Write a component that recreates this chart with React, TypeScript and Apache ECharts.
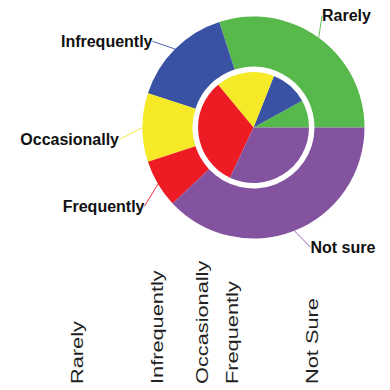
import React, { useEffect, useRef } from "react";
import * as echarts from "echarts";

const categories = ["Rarely", "Infrequently", "Occasionally", "Frequently", "Not sure"];
const outerValues = [30, 15, 10, 7, 38];
const innerValues = [8, 11, 17, 32, 32];
const axisLabels = ["Rarely", "Infrequently", "Occasionally", "Frequently", "Not Sure"];
const colors = ["#57B94B", "#3A52A3", "#F5E928", "#ED1C24", "#8453A0"];

// label placement (layout only)
const labelSpots = [
  { x: 322, y: 15.8, align: "left" },
  { x: 152.5, y: 41.3, align: "right" },
  { x: 119, y: 139.8, align: "right" },
  { x: 144.5, y: 206.3, align: "right" },
  { x: 310.5, y: 247.3, align: "left" },
];

export default function App() {
  const ref = useRef<HTMLDivElement>(null);
  useEffect(() => {
    if (!ref.current) return;
    const chart = echarts.init(ref.current, null, { renderer: "svg" });
    const total = outerValues.reduce((a, b) => a + b, 0);
    let acc = 0;
    const mids = outerValues.map((v) => {
      const m = ((acc + v / 2) / total) * 100;
      acc += v;
      return m;
    });
    const center = [253.5, 127.5];
    chart.setOption({
      animation: false,
      backgroundColor: "#ffffff",
      grid: { left: 24, right: 11, top: 0, bottom: 6 },
      xAxis: { type: "value", min: 0, max: 100, show: false },
      yAxis: { type: "value", min: 0, max: 1, show: false },
      series: [
        {
          type: "pie",
          silent: true,
          center,
          radius: [61, 111],
          startAngle: 0,
          clockwise: false,
          avoidLabelOverlap: false,
          itemStyle: { borderWidth: 0 },
          label: {
            show: true,
            position: "outside",
            formatter: "{b}",
            fontFamily: "Liberation Sans, Arial, sans-serif",
            fontWeight: "bold",
            fontSize: 16,
            color: "#111111",
          },
          labelLine: { show: true, length: 10, length2: 0, lineStyle: { width: 0.9 } },
          labelLayout: (p: any) => {
            const s = labelSpots[p.dataIndex];
            return { x: s.x, y: s.y, align: s.align, verticalAlign: "middle" };
          },
          data: categories.map((name, i) => ({
            name,
            value: outerValues[i],
            itemStyle: { color: colors[i] },
          })),
        },
        {
          type: "pie",
          silent: true,
          center,
          radius: [0, 55.5],
          startAngle: 0,
          clockwise: false,
          itemStyle: { borderWidth: 0 },
          label: { show: false },
          labelLine: { show: false },
          data: categories.map((name, i) => ({
            name,
            value: innerValues[i],
            itemStyle: { color: colors[i] },
          })),
        },
        {
          type: "custom",
          silent: true,
          coordinateSystem: "cartesian2d",
          data: mids.map((m) => [m, 0]),
          renderItem: (params: any, api: any) => {
            const pt = api.coord([api.value(0), api.value(1)]);
            return {
              type: "text",
              x: pt[0],
              y: pt[1],
              rotation: Math.PI / 2,
              scaleX: 1.28,
              style: {
                text: axisLabels[params.dataIndex],
                fontSize: 17,
                fontFamily: "Liberation Sans, Arial, sans-serif",
                fill: "#222222",
                align: "left",
                verticalAlign: "middle",
              },
            };
          },
        },
      ],
    });
    return () => chart.dispose();
  }, []);
  return (
    <div
      ref={ref}
      style={{ position: "fixed", left: 0, top: 0, width: 390, height: 390 }}
    />
  );
}
